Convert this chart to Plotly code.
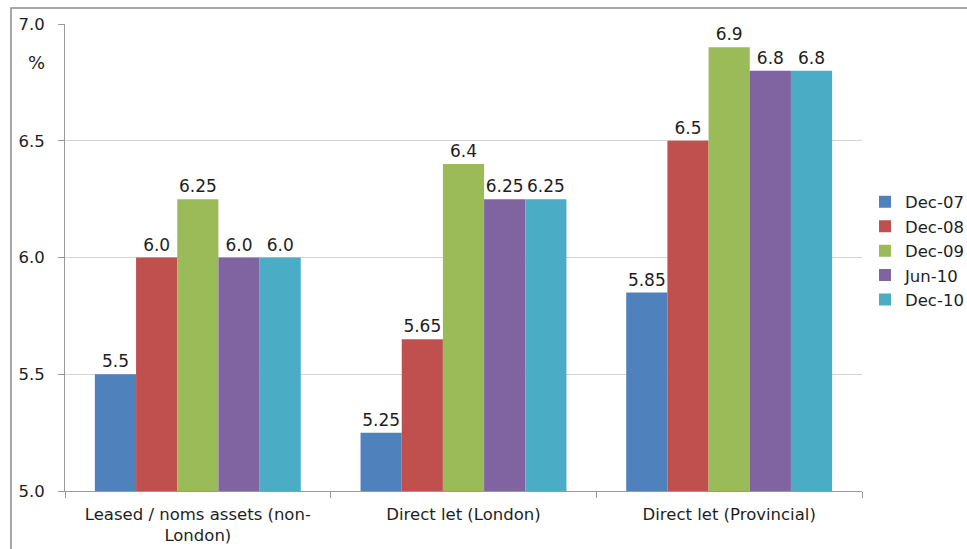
import plotly.graph_objects as go

categories = ["Leased / noms assets (non-<br>London)", "Direct let (London)", "Direct let (Provincial)"]
series_names = ["Dec-07", "Dec-08", "Dec-09", "Jun-10", "Dec-10"]
dec07 = [5.5, 5.25, 5.85]
dec08 = [6.0, 5.65, 6.5]
dec09 = [6.25, 6.4, 6.9]
jun10 = [6.0, 6.25, 6.8]
dec10 = [6.0, 6.25, 6.8]
y_ticks = [5.0, 5.5, 6.0, 6.5, 7.0]
colors = ["#4F81BD", "#C0504D", "#9BBB59", "#8064A2", "#4BACC6"]

FONT = "DejaVu Sans"
TXT = "#1E1E1E"


def fmt(v):
    s = f"{v:g}"
    return s if "." in s else s + ".0"


fig = go.Figure()
for name, vals, col in zip(series_names, [dec07, dec08, dec09, jun10, dec10], colors):
    fig.add_trace(go.Bar(
        name=name, x=categories, y=vals, marker=dict(color=col, line=dict(width=0)),
        text=[fmt(v) for v in vals], textposition="outside", cliponaxis=False,
        textfont=dict(family=FONT, size=17, color=TXT),
    ))

L, R, T, B = 65, 105, 24, 58
W, H = 967, 549
pw, ph = W - L - R, H - T - B

fig.update_layout(
    width=W, height=H, margin=dict(l=L, r=R, t=T, b=B, autoexpand=False),
    paper_bgcolor="white", plot_bgcolor="white",
    barmode="group", bargap=0.225, bargroupgap=0,
    font=dict(family=FONT, size=16.5, color=TXT),
    legend=dict(x=(969 - L) / pw, y=1 - (251 - T) / ph, xanchor="right", yanchor="middle",
                font=dict(family=FONT, size=16.5, color=TXT),
                itemwidth=30, tracegroupgap=0, bgcolor="rgba(0,0,0,0)"),
    xaxis=dict(showline=True, linecolor="#999999", linewidth=1,
               ticks="outside", tickson="boundaries", ticklen=6, tickcolor="#999999",
               ticklabelstandoff=8,
               tickfont=dict(family=FONT, size=16.5, color=TXT)),
    yaxis=dict(range=[5.0, 7.0], tickvals=y_ticks, ticktext=[f"{v:.1f}" for v in y_ticks],
               showline=True, linecolor="#999999", linewidth=1,
               ticks="outside", ticklen=6, tickcolor="#999999",
               ticklabelstandoff=10,
               showgrid=True, gridcolor="#D4D4D4", gridwidth=1, zeroline=False,
               tickfont=dict(family=FONT, size=16.5, color=TXT)),
    showlegend=True,
)

# "%" unit label at the top of the value axis
fig.add_annotation(text="%", xref="paper", yref="paper",
                   x=(36 - L) / pw, y=1 - (63 - T) / ph, xanchor="center", yanchor="middle",
                   showarrow=False, font=dict(family=FONT, size=18, color=TXT))

# chart border
fig.add_shape(type="rect", xref="paper", yref="paper",
              x0=(11 - L) / pw, y0=-1, x1=2, y1=1 + (T - 8) / ph,
              line=dict(color="#8C8C8C", width=1.5), fillcolor="rgba(0,0,0,0)", layer="below")

fig.write_html("out.html")
